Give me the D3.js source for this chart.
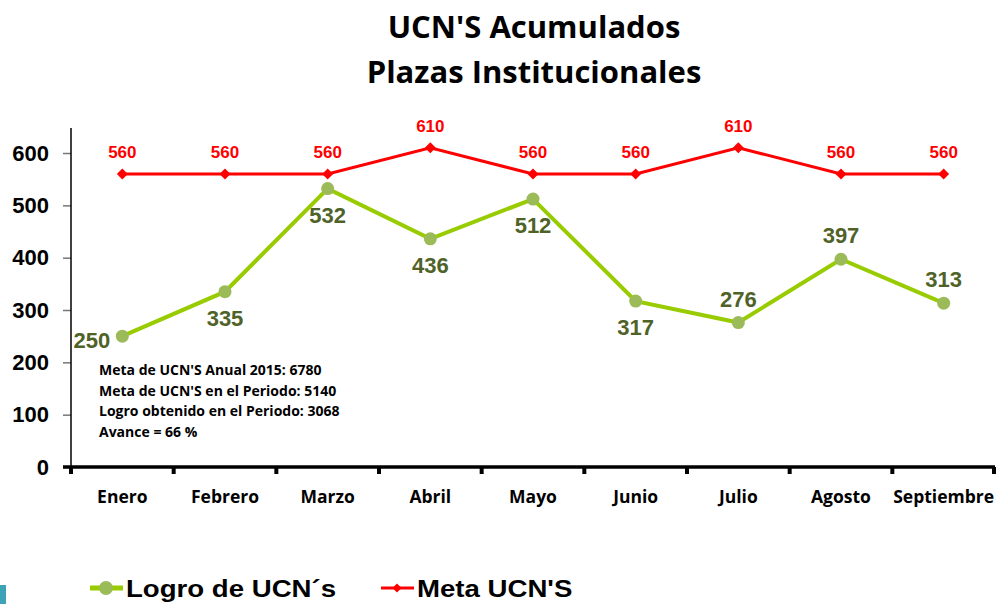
<!DOCTYPE html>
<html>
<head>
<meta charset="utf-8">
<script src="https://d3js.org/d3.v7.min.js"></script>
<style>
body { margin: 0; background: #fff; }
svg { display: block; }
</style>
</head>
<body>
<div id="chart"></div>
<script>
var months = ["Enero", "Febrero", "Marzo", "Abril", "Mayo", "Junio", "Julio", "Agosto", "Septiembre"];
var logro = [250, 335, 532, 436, 512, 317, 276, 397, 313];
var meta = [560, 560, 560, 610, 560, 560, 610, 560, 560];
var yTicks = [0, 100, 200, 300, 400, 500, 600];
// where the green labels go: l = left, b = below, a = above
var logroPos = ["l", "b", "b", "b", "b", "b", "a", "a", "a"];
var notes = [
    "Meta de UCN'S Anual 2015: 6780",
    "Meta de UCN'S en el Periodo: 5140",
    "Logro obtenido en el Periodo: 3068",
    "Avance = 66 %"
];

var width = 998, height = 604;
var plotLeft = 71, plotRight = 995, plotTop = 128, plotBottom = 467;
var calibri = "'Open Sans', Lato, sans-serif";
var arial = "'Liberation Sans', Arial, sans-serif";

var svg = d3.select("#chart").append("svg")
    .attr("width", width)
    .attr("height", height);

// titulo
svg.append("text").attr("x", 534).attr("y", 38)
    .attr("text-anchor", "middle").attr("font-family", calibri)
    .attr("font-weight", "bold").attr("font-size", 31)
    .text("UCN'S Acumulados");
svg.append("text").attr("x", 534).attr("y", 83)
    .attr("text-anchor", "middle").attr("font-family", calibri)
    .attr("font-weight", "bold").attr("font-size", 31)
    .text("Plazas Institucionales");

var x = d3.scalePoint().domain(months).range([plotLeft, plotRight]).padding(0.5);
var band = d3.scaleBand().domain(months).range([plotLeft, plotRight]);
var y = d3.scaleLinear().domain([0, 600]).range([plotBottom, plotBottom - 600 * 0.5233]);

// eje y
var yAxis = svg.append("g")
    .attr("transform", "translate(" + plotLeft + ",0)")
    .call(d3.axisLeft(y).tickValues(yTicks).tickSize(8).tickPadding(14));
yAxis.select(".domain").remove();
yAxis.selectAll(".tick line").attr("stroke", "#777").attr("stroke-width", 1.5);
yAxis.selectAll(".tick text")
    .attr("font-family", arial).attr("font-weight", "bold")
    .attr("font-size", 22).attr("fill", "#000");
svg.append("line")
    .attr("x1", plotLeft).attr("x2", plotLeft)
    .attr("y1", plotTop).attr("y2", plotBottom)
    .attr("stroke", "#000").attr("stroke-width", 1.5);

// eje x
svg.append("line")
    .attr("x1", plotLeft - 8).attr("x2", plotRight)
    .attr("y1", plotBottom).attr("y2", plotBottom)
    .attr("stroke", "#000").attr("stroke-width", 3.5);
svg.selectAll(".xtick")
    .data(months.concat(["end"]))
    .enter().append("line")
    .attr("class", "xtick")
    .attr("x1", function(d, i) { return i < months.length ? band(d) : plotRight - 1; })
    .attr("x2", function(d, i) { return i < months.length ? band(d) : plotRight - 1; })
    .attr("y1", plotBottom)
    .attr("y2", plotBottom + 7)
    .attr("stroke", "#000").attr("stroke-width", 4);
svg.selectAll(".xlabel")
    .data(months)
    .enter().append("text")
    .attr("x", function(d) { return x(d); })
    .attr("y", 503)
    .attr("text-anchor", "middle")
    .attr("font-family", calibri).attr("font-weight", "bold")
    .attr("font-size", 17.5)
    .text(function(d) { return d; });

// serie meta
var lineGen = d3.line()
    .x(function(d, i) { return x(months[i]); })
    .y(function(d) { return y(d); });
svg.append("path").datum(meta)
    .attr("d", lineGen)
    .attr("fill", "none").attr("stroke", "#ff0000").attr("stroke-width", 3);
svg.selectAll(".metaPt")
    .data(meta).enter().append("path")
    .attr("transform", function(d, i) { return "translate(" + x(months[i]) + "," + y(d) + ")"; })
    .attr("d", d3.symbol().type(d3.symbolSquare).size(60))
    .attr("transform", function(d, i) { return "translate(" + x(months[i]) + "," + y(d) + ") rotate(45)"; })
    .attr("fill", "#ff0000");
svg.selectAll(".metaLbl")
    .data(meta).enter().append("text")
    .attr("x", function(d, i) { return x(months[i]); })
    .attr("y", function(d) { return y(d) - 16; })
    .attr("text-anchor", "middle")
    .attr("font-family", arial).attr("font-weight", "bold")
    .attr("font-size", 17).attr("fill", "#ff0000")
    .text(function(d) { return d; });

// serie logro
svg.append("path").datum(logro)
    .attr("d", lineGen)
    .attr("fill", "none").attr("stroke", "#99cc00").attr("stroke-width", 4);
svg.selectAll(".logroPt")
    .data(logro).enter().append("circle")
    .attr("cx", function(d, i) { return x(months[i]); })
    .attr("cy", function(d) { return y(d); })
    .attr("r", 6.5)
    .attr("fill", "#9bbb59");
svg.selectAll(".logroLbl")
    .data(logro).enter().append("text")
    .attr("x", function(d, i) {
        return logroPos[i] == "l" ? x(months[i]) - 12 : x(months[i]);
    })
    .attr("y", function(d, i) {
        if (logroPos[i] == "l") return y(d) + 12;
        if (logroPos[i] == "b") return y(d) + 34;
        return y(d) - 16;
    })
    .attr("text-anchor", function(d, i) { return logroPos[i] == "l" ? "end" : "middle"; })
    .attr("font-family", arial).attr("font-weight", "bold")
    .attr("font-size", 22).attr("fill", "#4f6228")
    .text(function(d) { return d; });

// notas
svg.selectAll(".note")
    .data(notes).enter().append("text")
    .attr("x", 99)
    .attr("y", function(d, i) { return 375 + i * 20.7; })
    .attr("font-family", calibri).attr("font-weight", "bold")
    .attr("font-size", 14)
    .text(function(d) { return d; });

// leyenda
var legend = [
    { name: "Logro de UCN´s", color: "#99cc00", mark: "#9bbb59", x: 90, type: "circle" },
    { name: "Meta UCN'S", color: "#ff0000", mark: "#ff0000", x: 381, type: "diamond" }
];
var lg = svg.selectAll(".leg").data(legend).enter().append("g")
    .attr("transform", function(d) { return "translate(" + d.x + ",588)"; });
lg.append("line")
    .attr("x1", 0).attr("x2", 33).attr("y1", 0).attr("y2", 0)
    .attr("stroke", function(d) { return d.color; })
    .attr("stroke-width", function(d) { return d.type == "circle" ? 5 : 3; });
lg.append("path")
    .attr("transform", function(d) { return d.type == "circle" ? "translate(16,0)" : "translate(16,0) rotate(45)"; })
    .attr("d", function(d) {
        return d.type == "circle"
            ? d3.symbol().type(d3.symbolCircle).size(150)()
            : d3.symbol().type(d3.symbolSquare).size(40)();
    })
    .attr("fill", function(d) { return d.mark; });
lg.append("text")
    .attr("transform", "translate(36,9) scale(1.15,1)")
    .attr("font-family", arial).attr("font-weight", "bold")
    .attr("font-size", 24)
    .text(function(d) { return d.name; });

svg.append("rect").attr("x", 0).attr("y", 585).attr("width", 6).attr("height", 19)
    .attr("fill", "#3fa3b8");
</script>
</body>
</html>
